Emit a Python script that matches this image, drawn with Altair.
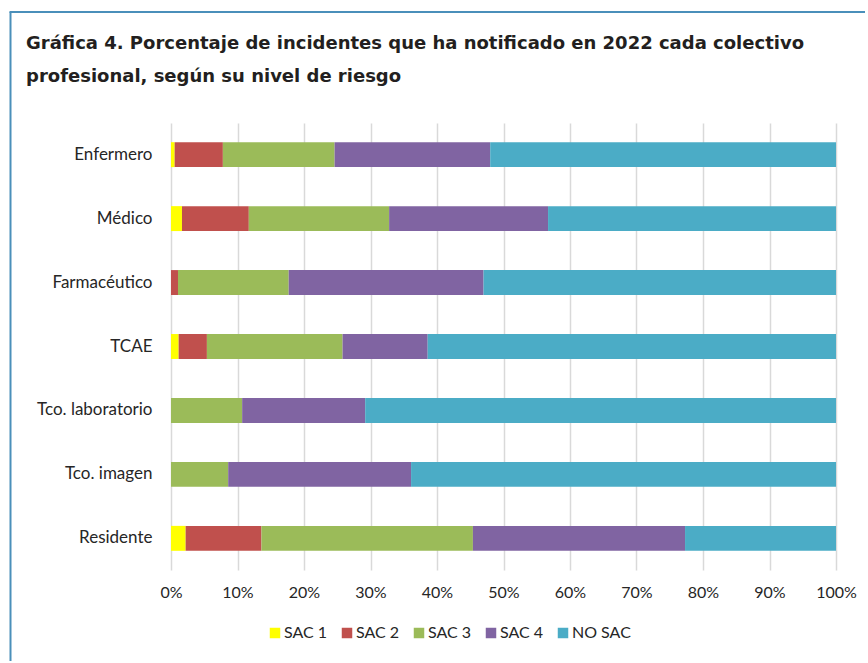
import altair as alt
import pandas as pd

categories = ["Enfermero", "Médico", "Farmacéutico", "TCAE",
              "Tco. laboratorio\u00a0", "Tco. imagen\u00a0", "Residente"]
levels = ["SAC 1", "SAC 2", "SAC 3", "SAC 4", "NO SAC"]
level_colors = ["#ffff00", "#c0504d", "#9bbb59", "#8064a2", "#4bacc6"]

sac1 = [0.55, 1.65, 0.0, 1.15, 0.0, 0.0, 2.2]
sac2 = [7.25, 10.05, 1.05, 4.25, 0.0, 0.0, 11.4]
sac3 = [16.8, 21.1, 16.65, 20.4, 10.7, 8.6, 31.8]
sac4 = [23.4, 23.9, 29.3, 12.8, 18.5, 27.5, 31.9]
nosac = [52.0, 43.3, 53.0, 61.4, 70.8, 63.9, 22.7]

x_ticks = [0, 0.1, 0.2, 0.3, 0.4, 0.5, 0.6, 0.7, 0.8, 0.9, 1.0]

title_lines = ["Gráfica 4. Porcentaje de incidentes que ha notificado en 2022 cada colectivo",
               "profesional, según su nivel de riesgo"]

series = [sac1, sac2, sac3, sac4, nosac]
rows = []
for li, (lvl, vals) in enumerate(zip(levels, series)):
    for cat, v in zip(categories, vals):
        rows.append({"Colectivo": cat, "Nivel": lvl, "orden": li, "valor": v / 100.0})
df = pd.DataFrame(rows)

LABEL_FONT = "Lato"
FRAME = "#4a8fba"

bars = alt.Chart(df).mark_bar().encode(
    y=alt.Y("Colectivo:N", sort=categories, title=None,
            scale=alt.Scale(paddingInner=0.61, paddingOuter=0.3),
            axis=alt.Axis(ticks=False, domain=False, grid=False, labelPadding=19,
                          labelFont=LABEL_FONT, labelFontSize=17, labelColor="#262626")),
    x=alt.X("valor:Q", stack="zero", title=None,
            scale=alt.Scale(domain=[0, 1], nice=False),
            axis=alt.Axis(values=x_ticks, format=".0%", grid=True, gridColor="#d9d9d9",
                          gridWidth=1.5, domain=False, ticks=False, labelPadding=14,
                          labelFlush=False,
                          labelFont=LABEL_FONT, labelFontSize=16, labelColor="#262626")),
    color=alt.Color("Nivel:N", sort=levels,
                    scale=alt.Scale(domain=levels, range=level_colors),
                    legend=alt.Legend(title=None, orient="none", direction="horizontal",
                                      legendX=96, legendY=502,
                                      symbolType="square", symbolSize=110,
                                      symbolStrokeWidth=0, labelOffset=1,
                                      columnPadding=11,
                                      labelFont=LABEL_FONT, labelFontSize=16,
                                      labelColor="#262626")),
    order=alt.Order("orden:Q", sort="ascending"),
)

one = pd.DataFrame({"k": [0]})
left_rule = alt.Chart(one).mark_rule(color=FRAME, strokeWidth=2).encode(
    x=alt.value(-160.5), y=alt.value(-111), y2=alt.value(538))
top_rule = alt.Chart(one).mark_rule(color=FRAME, strokeWidth=2).encode(
    x=alt.value(-161.5), x2=alt.value(694), y=alt.value(-111))

chart = alt.layer(bars, left_rule, top_rule).properties(
    width=665, height=447,
    padding={"left": 8, "top": 11, "right": 0, "bottom": 0},
    title=alt.TitleParams(text=title_lines, anchor="start", frame="bounds", dx=17.5,
                          offset=-75, font="DejaVu Sans", fontWeight="bold",
                          fontSize=18, lineHeight=33, color="#231f20"),
).configure_view(stroke=None)

chart.save("out.html", embed_options={"renderer": "svg", "actions": False})
